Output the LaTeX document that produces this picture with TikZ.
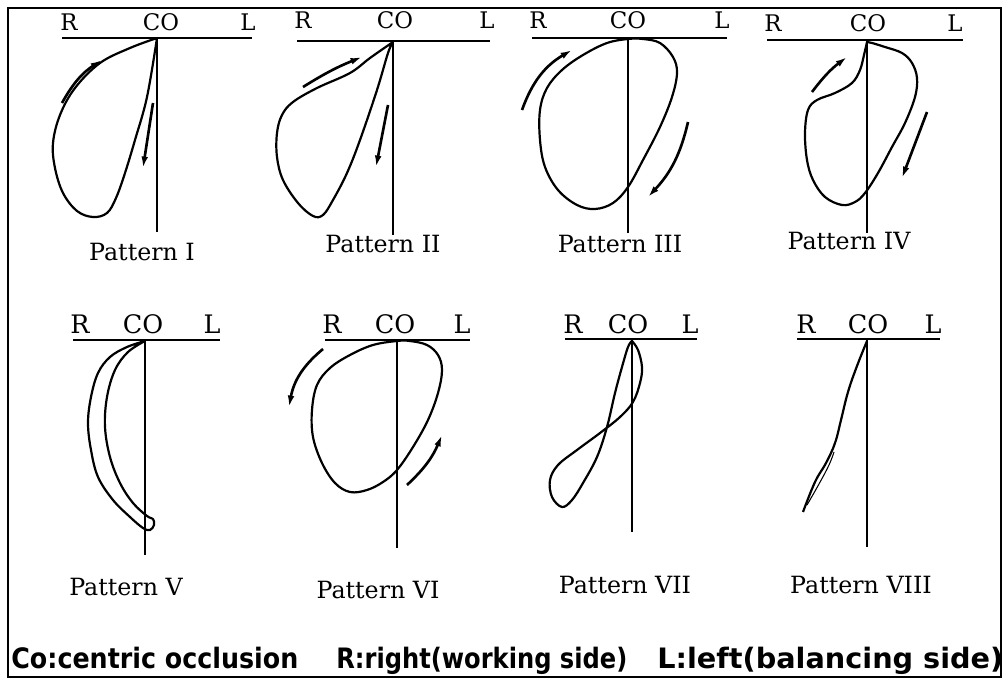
\documentclass[tikz,border=0pt]{standalone}
\usepackage{fontspec}
\setmainfont{DejaVu Serif}
\newfontfamily\gothic{DejaVu Sans}
\usepackage{tikz}
\usetikzlibrary{arrows.meta}

\begin{document}
\begin{tikzpicture}[x=0.02cm, y=-0.02cm, >={Latex[length=6.5pt,width=3.8pt]},
  axis/.style={line width=1.4pt},
  track/.style={line width=1.25pt, line join=round},
  motion/.style={->, line width=1.5pt},
  sidelbl/.style={anchor=base, inner sep=0pt, font=\fontsize{13}{15}\selectfont},
  sidelblb/.style={anchor=base, inner sep=0pt, font=\fontsize{14.5}{16}\selectfont},
  ptitle/.style={anchor=base, inner sep=0pt, font=\fontsize{13.5}{15}\selectfont},
  notes/.style={anchor=base west, inner sep=0pt, font=\gothic\bfseries\fontsize{16}{18}\selectfont}]

\useasboundingbox (0,0) rectangle (1005,679);
% frame
\draw [line width=1.5pt] (8,8) rectangle (1001,677);

%%% pattern I
\draw [axis] (62,38) -- (252,38) (157,38) -- (157,232);
\draw (69,31) node[sidelbl] (r1) {R}
      (161,31) node[sidelbl] (co1) {CO}
      (248,31) node[sidelbl] (l1) {L}
      (142,260) node[ptitle] (p1) {Pattern I};
\draw [track] plot[smooth, tension=0.6] coordinates {(157,38) (130,48) (100,63) (75,88) (60,115) (53,143) (55,168) (63,193) (77,211) (93,217) (107,213) (116,198) (125,173) (135,140) (147,97) (157,38)};
\draw [motion] (62,103) to[bend left=14] (102,60);
\draw [motion] (153,103) -- (143,168);

%%% pattern II
\draw [axis] (297,41) -- (490,41) (393,41) -- (393,235);
\draw (303,29) node[sidelbl] (r2) {R}
      (395,29) node[sidelbl] (co2) {CO}
      (487,29) node[sidelbl] (l2) {L}
      (383,253) node[ptitle] (p2) {Pattern II};
\draw [track] plot[smooth, tension=0.6] coordinates {(393,42) (370,58) (350,73) (317,88) (293,102) (282,115) (277,133) (277,157) (283,180) (298,203) (313,216) (323,215) (333,200) (347,173) (360,140) (377,90) (388,53) (393,42)};
\draw [motion] (303,87) to[bend left=5] (362,57);
\draw [motion] (388,105) -- (376,167);

%%% pattern III
\draw [axis] (532,38) -- (727,38) (628,38) -- (628,233);
\draw (538,29) node[sidelbl] (r3) {R}
      (628,29) node[sidelbl] (co3) {CO}
      (722,29) node[sidelbl] (l3) {L}
      (620,253) node[ptitle] (p3) {Pattern III};
\draw [track] plot[smooth cycle, tension=0.6] coordinates {(628,39) (607,43) (583,55) (562,70) (547,88) (540,110) (540,140) (545,167) (558,190) (577,205) (595,209) (613,203) (628,187) (643,160) (660,127) (672,97) (677,73) (673,57) (660,43) (643,39)};
\draw [motion] (522,110) to[bend left=20] (572,50);
\draw [motion] (688,122) to[bend left=15] (648,197);

%%% pattern IV
\draw [axis] (767,40) -- (963,40) (867,40) -- (867,233);
\draw (773,32) node[sidelbl] (r4) {R}
      (868,32) node[sidelbl] (co4) {CO}
      (955,32) node[sidelbl] (l4) {L}
      (849,250) node[ptitle] (p4) {Pattern IV};
\draw [track] plot[smooth, tension=0.6] coordinates {(867,42) (864,55) (860,70) (852,83) (835,93) (817,100) (808,110) (805,133) (807,160) (813,180) (825,197) (842,205) (855,202) (865,193) (878,173) (892,147) (905,123) (915,97) (917,78) (912,63) (902,53) (885,47) (872,43) (867,42)};
\draw [motion] (812,92) to[bend left=8] (847,57);
\draw [motion] (927,112) -- (902,178);

%%% pattern V
\draw [axis] (73,340) -- (220,340) (145,340) -- (145,555);
\draw (80,333) node[sidelblb] (r5) {R}
      (143,333) node[sidelblb] (co5) {CO}
      (212,333) node[sidelblb] (l5) {L}
      (126,595) node[ptitle] (p5) {Pattern V};
\draw [track] plot[smooth, tension=0.6] coordinates {(145,341) (127,347) (110,357) (98,373) (91,397) (88,423) (91,450) (98,477) (113,500) (130,517) (143,528) (150,530) (154,525) (153,519) (147,516) (133,503) (120,483) (110,457) (105,427) (107,397) (115,370) (128,352) (145,341)};

%%% pattern VI
\draw [axis] (325,340) -- (470,340) (397,340) -- (397,548);
\draw (332,333) node[sidelblb] (r6) {R}
      (395,333) node[sidelblb] (co6) {CO}
      (462,333) node[sidelblb] (l6) {L}
      (378,598) node[ptitle] (p6) {Pattern VI};
\draw [track] plot[smooth cycle, tension=0.6] coordinates {(397,341) (373,345) (350,355) (330,368) (317,385) (312,410) (313,437) (322,463) (335,483) (350,492) (367,490) (383,482) (397,470) (413,447) (428,420) (438,393) (442,370) (438,355) (427,345) (410,341)};
\draw [motion] (323,349) to[bend right=20] (289,407);
\draw [motion] (407,485) to[bend right=12] (442,435);

%%% pattern VII
\draw [axis] (565,339) -- (697,339) (632,339) -- (632,532);
\draw (573,333) node[sidelblb] (r7) {R}
      (628,333) node[sidelblb] (co7) {CO}
      (690,333) node[sidelblb] (l7) {L}
      (625,593) node[ptitle] (p7) {Pattern VII};
\draw [track] plot[smooth, tension=0.6] coordinates {(632,341) (638,350) (642,367) (640,383) (633,402) (620,417) (600,433) (577,450) (558,465) (550,480) (552,497) (562,507) (572,500) (583,483) (597,457) (607,427) (615,393) (622,367) (628,347) (632,341)};

%%% pattern VIII
\draw [axis] (797,339) -- (940,339) (867,339) -- (867,547);
\draw (806,333) node[sidelblb] (r8) {R}
      (868,333) node[sidelblb] (co8) {CO}
      (933,333) node[sidelblb] (l8) {L}
      (861,593) node[ptitle] (p8) {Pattern VIII};
\draw [track] plot[smooth, tension=0.7] coordinates {(867,341) (857,366) (848,392) (841,420) (835,443) (826,463) (815,482) (803,512)};
\draw [line width=0.6pt] plot[smooth, tension=0.7] coordinates {(834,452) (829,465) (819,484) (807,505)};

% key
\draw (11,668) node[notes] (k1) {\resizebox{5.74cm}{\height}{Co:centric occlusion}}
      (336,668) node[notes] (k2) {\resizebox{5.82cm}{\height}{R:right(working side)}}
      (657,668) node[notes] (k3) {\resizebox{6.92cm}{\height}{L:left(balancing side)}};

\end{tikzpicture}
\end{document}
